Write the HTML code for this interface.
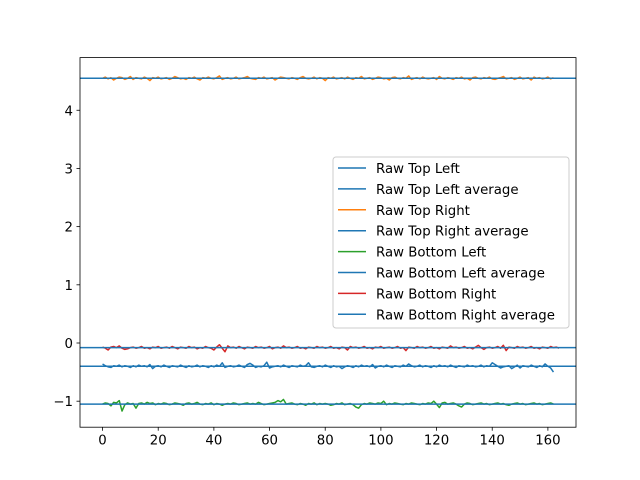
<!DOCTYPE html>
<html><head><meta charset="utf-8"><style>
body{margin:0;background:#fff}
svg{display:block;font-family:"DejaVu Sans","Liberation Sans",sans-serif}
</style></head><body>
<svg id="chart" width="640" height="480" viewBox="0 0 640 480">
<rect width="640" height="480" fill="#fff"/>
<g id="plot" clip-path="url(#clip)"></g>
<defs><clipPath id="clip"><rect x="80" y="57.6" width="496" height="369.6"/></clipPath></defs>
<g id="axes"></g>
<g id="legend"></g>
</svg>
<script>
const topRight=[4.55,4.57,4.54,4.56,4.52,4.55,4.57,4.56,4.53,4.55,4.58,4.53,4.56,4.55,4.54,4.57,4.55,4.51,4.56,4.55,4.57,4.54,4.55,4.56,4.53,4.55,4.58,4.56,4.54,4.55,4.53,4.56,4.55,4.57,4.54,4.52,4.56,4.55,4.57,4.55,4.54,4.56,4.59,4.53,4.55,4.56,4.54,4.55,4.57,4.54,4.55,4.56,4.58,4.55,4.54,4.53,4.56,4.55,4.57,4.54,4.55,4.56,4.52,4.55,4.57,4.56,4.55,4.54,4.56,4.55,4.53,4.56,4.58,4.55,4.54,4.55,4.57,4.54,4.56,4.55,4.51,4.56,4.55,4.57,4.54,4.55,4.56,4.54,4.57,4.55,4.53,4.56,4.55,4.58,4.54,4.55,4.56,4.53,4.55,4.57,4.56,4.54,4.55,4.52,4.56,4.57,4.55,4.54,4.56,4.55,4.59,4.53,4.55,4.56,4.54,4.57,4.55,4.54,4.55,4.56,4.53,4.58,4.55,4.54,4.56,4.55,4.53,4.56,4.55,4.57,4.54,4.55,4.52,4.56,4.57,4.55,4.54,4.56,4.55,4.57,4.54,4.53,4.55,4.56,4.58,4.54,4.55,4.56,4.53,4.55,4.57,4.54,4.55,4.56,4.52,4.57,4.55,4.56,4.54,4.55,4.57,4.54,4.56];
const bottomRight=[-0.07,-0.09,-0.12,-0.07,-0.06,-0.08,-0.05,-0.09,-0.11,-0.10,-0.08,-0.07,-0.09,-0.08,-0.06,-0.09,-0.08,-0.10,-0.07,-0.08,-0.06,-0.09,-0.08,-0.07,-0.09,-0.06,-0.08,-0.10,-0.07,-0.08,-0.09,-0.06,-0.08,-0.07,-0.10,-0.08,-0.09,-0.06,-0.08,-0.09,-0.12,-0.07,-0.03,-0.09,-0.15,-0.05,-0.08,-0.07,-0.09,-0.06,-0.08,-0.10,-0.07,-0.08,-0.09,-0.06,-0.08,-0.07,-0.09,-0.08,-0.06,-0.10,-0.08,-0.07,-0.09,-0.05,-0.08,-0.07,-0.09,-0.08,-0.06,-0.09,-0.08,-0.10,-0.07,-0.08,-0.09,-0.06,-0.08,-0.07,-0.09,-0.08,-0.06,-0.09,-0.08,-0.10,-0.07,-0.08,-0.12,-0.06,-0.08,-0.07,-0.09,-0.08,-0.06,-0.09,-0.08,-0.10,-0.07,-0.08,-0.06,-0.09,-0.08,-0.07,-0.09,-0.08,-0.06,-0.09,-0.08,-0.13,-0.07,-0.08,-0.09,-0.06,-0.08,-0.07,-0.09,-0.08,-0.06,-0.09,-0.08,-0.10,-0.07,-0.08,-0.09,-0.05,-0.08,-0.07,-0.09,-0.08,-0.06,-0.09,-0.08,-0.10,-0.07,-0.04,-0.08,-0.11,-0.08,-0.07,-0.09,-0.08,-0.06,-0.09,-0.04,-0.13,-0.07,-0.08,-0.09,-0.06,-0.08,-0.07,-0.09,-0.08,-0.06,-0.09,-0.08,-0.10,-0.07,-0.08,-0.09,-0.06,-0.08,-0.07,-0.09];
const topLeft=[-0.36,-0.39,-0.41,-0.42,-0.39,-0.40,-0.38,-0.41,-0.39,-0.40,-0.42,-0.39,-0.41,-0.38,-0.40,-0.39,-0.41,-0.37,-0.44,-0.40,-0.39,-0.41,-0.38,-0.40,-0.42,-0.39,-0.40,-0.41,-0.38,-0.40,-0.42,-0.39,-0.41,-0.40,-0.38,-0.41,-0.39,-0.40,-0.42,-0.39,-0.41,-0.38,-0.40,-0.34,-0.42,-0.40,-0.39,-0.41,-0.40,-0.38,-0.40,-0.42,-0.37,-0.35,-0.38,-0.42,-0.40,-0.41,-0.39,-0.33,-0.43,-0.41,-0.40,-0.39,-0.41,-0.38,-0.40,-0.42,-0.39,-0.40,-0.41,-0.38,-0.40,-0.39,-0.34,-0.41,-0.42,-0.40,-0.39,-0.41,-0.38,-0.40,-0.42,-0.39,-0.41,-0.40,-0.44,-0.41,-0.39,-0.40,-0.42,-0.39,-0.41,-0.38,-0.40,-0.39,-0.41,-0.37,-0.43,-0.40,-0.39,-0.41,-0.38,-0.40,-0.42,-0.39,-0.40,-0.41,-0.38,-0.40,-0.36,-0.39,-0.41,-0.40,-0.38,-0.41,-0.39,-0.40,-0.42,-0.39,-0.41,-0.38,-0.40,-0.39,-0.41,-0.38,-0.40,-0.42,-0.39,-0.40,-0.41,-0.38,-0.40,-0.39,-0.41,-0.40,-0.38,-0.41,-0.39,-0.40,-0.34,-0.37,-0.40,-0.43,-0.41,-0.40,-0.39,-0.44,-0.41,-0.38,-0.43,-0.39,-0.40,-0.41,-0.38,-0.40,-0.42,-0.39,-0.41,-0.36,-0.40,-0.43,-0.50];
const bottomLeft=[-1.05,-1.03,-1.04,-1.08,-1.02,-1.03,-0.99,-1.17,-1.06,-1.03,-1.05,-1.04,-1.12,-1.04,-1.03,-1.05,-1.02,-1.04,-1.03,-1.06,-1.04,-1.05,-1.03,-1.04,-1.06,-1.05,-1.03,-1.04,-1.05,-1.07,-1.04,-1.03,-1.05,-1.04,-1.02,-1.05,-1.06,-1.04,-1.05,-1.03,-1.06,-1.04,-1.05,-1.07,-1.05,-1.04,-1.05,-1.03,-1.04,-1.06,-1.05,-1.04,-1.03,-1.05,-1.04,-1.05,-1.02,-1.04,-1.06,-1.05,-1.04,-1.03,-1.02,-0.99,-1.01,-0.97,-1.05,-1.04,-1.03,-1.05,-1.06,-1.04,-1.05,-1.07,-1.04,-1.05,-1.03,-1.06,-1.04,-1.05,-1.04,-1.05,-1.07,-1.06,-1.04,-1.05,-1.03,-1.06,-1.05,-1.04,-1.06,-1.10,-1.12,-1.06,-1.04,-1.05,-1.03,-1.04,-1.05,-1.03,-1.04,-1.00,-1.06,-1.04,-1.05,-1.03,-1.04,-1.05,-1.06,-1.04,-1.05,-1.03,-1.04,-1.05,-1.06,-1.04,-1.05,-1.03,-1.04,-1.00,-1.05,-1.11,-1.03,-1.02,-1.05,-1.04,-1.03,-1.05,-1.08,-1.10,-1.05,-1.03,-1.04,-1.06,-1.05,-1.04,-1.03,-1.05,-1.04,-1.06,-1.05,-1.04,-1.03,-1.05,-1.04,-1.06,-1.07,-1.05,-1.04,-1.03,-1.05,-1.04,-1.06,-1.05,-1.04,-1.03,-1.05,-1.04,-1.06,-1.05,-1.04,-1.03,-1.05];
const averages=[-0.40,4.55,-1.05,-0.08];
const xTicks=[0,20,40,60,80,100,120,140,160];
const yTicks=[-1,0,1,2,3,4];
const legendLabels=["Raw Top Left","Raw Top Left average","Raw Top Right","Raw Top Right average","Raw Bottom Left","Raw Bottom Left average","Raw Bottom Right","Raw Bottom Right average"];
const legendColors=["#1f77b4","#1f77b4","#ff7f0e","#1f77b4","#2ca02c","#1f77b4","#d62728","#1f77b4"];

const NS="http://www.w3.org/2000/svg";
const L=80,R=576,T=57.6,B=427.2;
const X0=-8.1,X1=170.1,Y0=-1.447,Y1=4.905;
const sx=v=>L+(v-X0)/(X1-X0)*(R-L);
const sy=v=>B-(v-Y0)/(Y1-Y0)*(B-T);
function mk(tag,attrs,parent){const e=document.createElementNS(NS,tag);for(const k in attrs)e.setAttribute(k,attrs[k]);parent.appendChild(e);return e;}
const plot=document.getElementById('plot'),axes=document.getElementById('axes'),leg=document.getElementById('legend');
function series(arr,color,name){
  const d=arr.map((v,i)=>(i?'L':'M')+sx(i).toFixed(2)+' '+sy(v).toFixed(2)).join('');
  const p=mk('path',{d:d,fill:'none',stroke:color,'stroke-width':1.5,'stroke-linejoin':'round'},plot);
  
  
}
function avg(v,name){
  const l=mk('line',{x1:L,x2:R,y1:sy(v),y2:sy(v),stroke:'#1f77b4','stroke-width':1.5},plot);
  
  
}
series(topLeft,'#1f77b4','raw-top-left-line');avg(averages[0],'top-left-average-line');
series(topRight,'#ff7f0e','raw-top-right-line');avg(averages[1],'top-right-average-line');
series(bottomLeft,'#2ca02c','raw-bottom-left-line');avg(averages[2],'bottom-left-average-line');
series(bottomRight,'#d62728','raw-bottom-right-line');avg(averages[3],'bottom-right-average-line');

const frame=mk('rect',{x:L,y:T,width:R-L,height:B-T,fill:'none',stroke:'#000','stroke-width':0.8},axes);


xTicks.forEach(t=>{
  const x=sx(t);
  mk('line',{x1:x,x2:x,y1:B,y2:B+3.5,stroke:'#000','stroke-width':0.8},axes);
  const tx=mk('text',{x:x,y:B+17.5,'text-anchor':'middle','font-size':13.3,fill:'#000'},axes);
  tx.textContent=t;
  
  
});
yTicks.forEach(t=>{
  const y=sy(t);
  mk('line',{x1:L-3.5,x2:L,y1:y,y2:y,stroke:'#000','stroke-width':0.8},axes);
  const tx=mk('text',{x:L-7,y:y+5,'text-anchor':'end','font-size':13.3,fill:'#000'},axes);
  tx.textContent=t<0?'\u2212'+Math.abs(t):t;
  
  
});
const box=mk('rect',{x:333,y:157,width:236,height:171,rx:3,fill:'#fff','fill-opacity':0.8,stroke:'#ccc','stroke-width':1},leg);


legendLabels.forEach((lab,i)=>{
  const y=168+i*20.9;
  const g=mk('g',{},leg);
  
  
  mk('line',{x1:338,x2:366,y1:y,y2:y,stroke:legendColors[i],'stroke-width':1.5},g);
  const t=mk('text',{x:376,y:y+5,'font-size':13.3,fill:'#000'},g);
  t.textContent=lab;
});
</script>
</body></html>
